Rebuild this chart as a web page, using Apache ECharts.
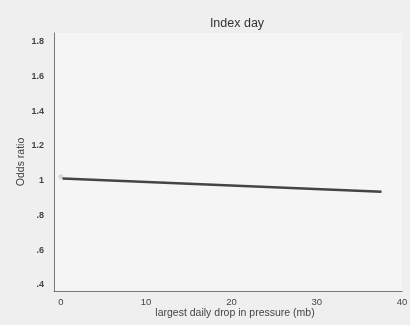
<!DOCTYPE html>
<html>
<head>
<meta charset="utf-8">
<script src="https://cdn.jsdelivr.net/npm/echarts@6/dist/echarts.min.js"></script>
<style>
html,body{margin:0;padding:0;background:#efefef;}
#c{width:410px;height:325px;}
</style>
</head>
<body>
<div id="c"></div>
<script>
var titleText = "Index day";
var xName = "largest daily drop in pressure (mb)";
var yName = "Odds ratio";
var xTicks = [0, 10, 20, 30, 40];
var yTicks = [0.4, 0.6, 0.8, 1, 1.2, 1.4, 1.6, 1.8];
var xValues = [0.2, 37.6];
var orValues = [1.012, 0.936];
var dotX = [0];
var dotY = [1.022];

function fmtY(v){
  var s = (Math.round(v*10)/10).toString();
  if (s.indexOf('0.') === 0) s = s.slice(1);
  return s;
}

var chart = echarts.init(document.getElementById('c'), null, {renderer:'canvas'});
chart.setOption({
  backgroundColor: '#efefef',
  animation: false,
  title: {
    text: titleText, left: 232, top: 12, textAlign: 'center',
    textStyle: {fontFamily: 'Liberation Sans', fontSize: 12.5, fontWeight: 'normal', color: '#333'}
  },
  grid: {left: 54, top: 33, right: 8, bottom: 34, show: true, backgroundColor: '#f5f5f5', borderWidth: 0,
         containLabel: false, outerBoundsMode: 'none'},
  xAxis: {
    type: 'value', min: -0.8, max: 40,
    name: xName, nameLocation: 'middle', nameGap: 17, nameMoveOverlap: false,
    nameTextStyle: {fontFamily: 'Liberation Sans', fontSize: 10.5, color: '#444', padding: [0,0,0,14]},
    axisLine: {show: true, onZero: false, lineStyle: {color: '#777', width: 1}},
    axisTick: {show: false},
    splitLine: {show: false},
    axisLabel: {customValues: xTicks, fontFamily: 'Liberation Sans', fontSize: 9.5, color: '#444', margin: 6}
  },
  yAxis: {
    type: 'value', min: 0.365, max: 1.85,
    name: yName, nameLocation: 'middle', nameGap: 27, nameMoveOverlap: false,
    nameTextStyle: {fontFamily: 'Liberation Sans', fontSize: 10.5, color: '#444'},
    axisLine: {show: true, onZero: false, lineStyle: {color: '#777', width: 1}},
    axisTick: {show: false},
    splitLine: {show: false},
    axisLabel: {customValues: yTicks, formatter: fmtY, fontFamily: 'Liberation Sans', fontSize: 9, fontWeight: 'bold', color: '#444', margin: 10}
  },
  series: [
    {
      type: 'line', data: xValues.map(function(x,i){return [x, orValues[i]];}),
      symbol: 'none', lineStyle: {color: '#444', width: 2.5}
    },
    {
      type: 'scatter', data: dotX.map(function(x,i){return [x, dotY[i]];}),
      symbolSize: 5, itemStyle: {color: '#d0d0d0'}
    }
  ]
});
</script>
</body>
</html>
